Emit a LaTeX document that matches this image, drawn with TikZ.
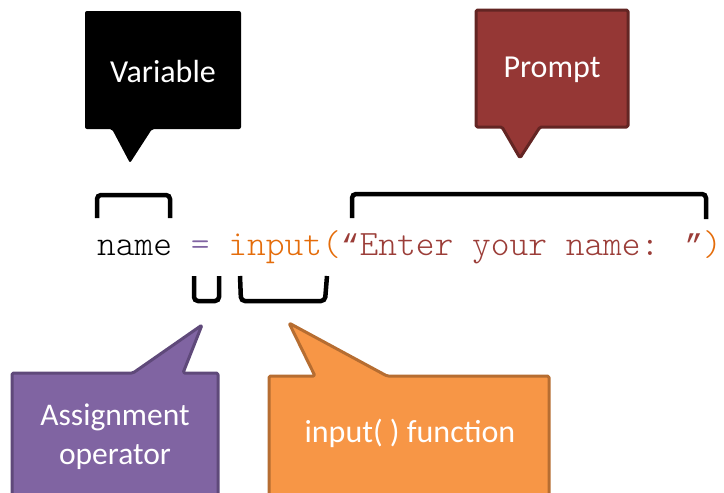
\documentclass[tikz,border=0pt]{standalone}
\usepackage{fontspec}
\setmainfont{Carlito}
\newfontfamily\lightmono{lmmonolt10-regular.otf}
\newfontfamily\quotemono{Liberation Mono}
\definecolor{promptfill}{HTML}{953735}
\definecolor{promptline}{HTML}{632523}
\definecolor{assignfill}{HTML}{8064A2}
\definecolor{assignline}{HTML}{5F497A}
\definecolor{inputfill}{HTML}{F79646}
\definecolor{inputline}{HTML}{B66D31}
\definecolor{codepurple}{HTML}{8064A2}
\definecolor{codeorange}{HTML}{E46C0A}
\definecolor{codered}{HTML}{9B3D38}
\newcommand{\cq}[1]{\makebox[0.525em]{\quotemono\fontsize{30}{36}\selectfont #1}}
\tikzset{
  callout/.style={line width=3pt, line join=round, rounded corners=1.5pt},
  bracketline/.style={line width=4.5pt, rounded corners=4pt, line cap=butt},
  label/.style={text=white, font=\fontsize{32}{38}\selectfont, align=center, inner sep=0pt},
}
\begin{document}
\begin{tikzpicture}[x=1pt,y=-1pt]
\useasboundingbox (0,0) rectangle (724,493);
\clip (0,0) rectangle (724,493);
% Variable callout
\fill[black, rounded corners=2pt] (85,11) -- (241,11) -- (241,129) -- (152,129) -- (130,163) -- (112,129) -- (85,129) -- cycle;
\node[label] (var) at (163,72) {Variable};
% Prompt callout
\filldraw[callout, fill=promptfill, draw=promptline] (476,10) -- (628,10) -- (628,127) -- (540,127) -- (520,158) -- (502,127) -- (476,127) -- cycle;
\node[label] (prompt) at (552,70) {Prompt};
% Assignment callout
\filldraw[callout, fill=assignfill, draw=assignline] (12,510) -- (12,373) -- (133,373) -- (202,325) -- (183,373) -- (218,373) -- (218,510) -- cycle;
\node[label, font=\fontsize{31.5}{39}\selectfont] (assign) at (115,437) {Assignment\\operator};
% Input callout
\filldraw[callout, fill=inputfill, draw=inputline] (269,510) -- (269,376) -- (315,376) -- (289,323) -- (387,376) -- (549,376) -- (549,510) -- cycle;
\node[label] (func) at (410,433) {input( ) function};
% Code line
\node[anchor=base west, inner sep=0pt, font=\lightmono\fontsize{35.7}{40}\selectfont] (code) at (97,255)
  {name \textcolor{codepurple}{=} \textcolor{codeorange}{input(}\textcolor{codered}{\cq{“}Enter your name: \cq{”}}\textcolor{codeorange}{)}};
% Brackets
\draw[bracketline] (97,218) -- (97,195) -- (170,195) -- (170,218);
\draw[bracketline] (352,218) -- (352,194) -- (706,194) -- (706,219);
\draw[bracketline] (194,276) -- (194,301) -- (219,301) -- (219,276);
\draw[bracketline] (240,276) -- (241,301) -- (325,301) -- (327,276);
\end{tikzpicture}
\end{document}
